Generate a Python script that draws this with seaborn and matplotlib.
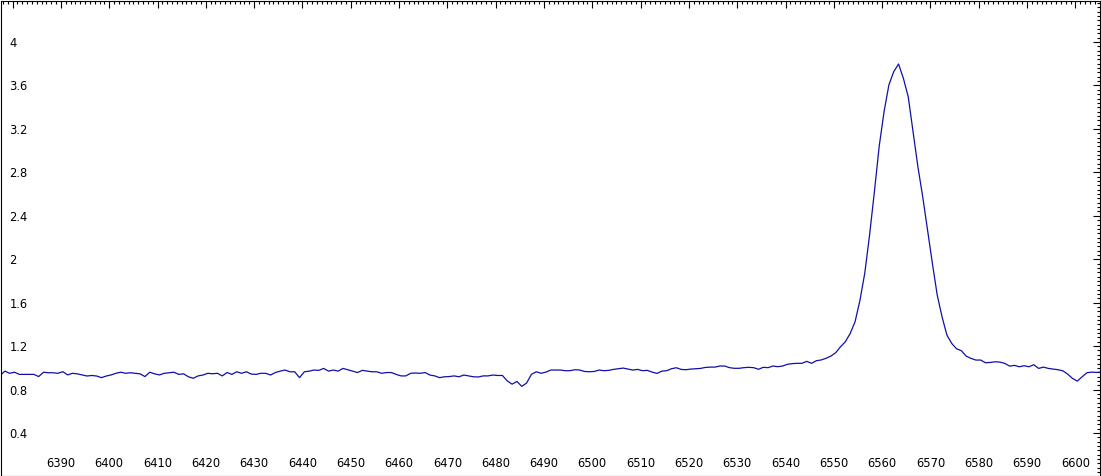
import numpy as np
import matplotlib
matplotlib.use("Agg")
import matplotlib.pyplot as plt
from matplotlib.ticker import MultipleLocator, FuncFormatter
import seaborn as sns

wl_start = 6377.4
wl_step = 1.0

flux_6377 = [0.93, 0.97, 0.95, 0.96, 0.94, 0.94, 0.94, 0.94, 0.92, 0.96,
             0.955, 0.955, 0.95, 0.965, 0.935, 0.95, 0.945, 0.935, 0.925, 0.93,
             0.925, 0.91, 0.925, 0.935, 0.95, 0.96, 0.95, 0.955, 0.95, 0.945,
             0.92, 0.96, 0.945, 0.935, 0.95, 0.955, 0.96, 0.94, 0.945]
flux_6416 = [0.918, 0.904, 0.926, 0.934, 0.95, 0.946, 0.95, 0.926, 0.957, 0.94,
             0.964, 0.95, 0.964, 0.943, 0.94, 0.95, 0.95, 0.934, 0.957, 0.97,
             0.98, 0.964, 0.964, 0.91, 0.964, 0.97, 0.98, 0.977, 0.995, 0.97,
             0.98, 0.97, 0.995, 0.983, 0.97, 0.957, 0.977]
flux_6453 = [0.97, 0.964, 0.964, 0.95, 0.957, 0.957, 0.94, 0.926, 0.926, 0.95,
             0.953, 0.95, 0.957, 0.934, 0.926, 0.91, 0.918, 0.92, 0.926, 0.918,
             0.934, 0.926, 0.918, 0.916, 0.926, 0.926, 0.934, 0.93, 0.93, 0.88,
             0.85, 0.875, 0.83, 0.86, 0.94, 0.964, 0.95]
flux_6490 = [0.961, 0.98, 0.98, 0.98, 0.974, 0.974, 0.983, 0.98, 0.967, 0.964,
             0.967, 0.98, 0.974, 0.977, 0.986, 0.992, 0.998, 0.989, 0.98, 0.986,
             0.974, 0.977, 0.961, 0.949, 0.97, 0.974, 0.992, 1.001, 0.986, 0.983,
             0.989, 0.992, 0.995, 1.004, 1.007, 1.007, 1.017, 1.017]
flux_6528 = [1.002, 0.996, 0.996, 1.002, 1.005, 1.002, 0.987, 1.005, 1.002, 1.017,
             1.011, 1.017, 1.033, 1.039, 1.042, 1.042, 1.06, 1.042, 1.066, 1.073,
             1.088, 1.109, 1.14, 1.195, 1.241, 1.318, 1.425, 1.62]
flux_halpha = [1.87, 2.223, 2.622, 3.043, 3.359, 3.605, 3.727, 3.798, 3.666, 3.497,
               3.175, 2.853, 2.576, 2.269, 1.963, 1.671, 1.471, 1.303]
flux_6574 = [1.225, 1.176, 1.158, 1.108, 1.087, 1.072, 1.072, 1.047, 1.05, 1.056,
             1.053, 1.041, 1.016, 1.023, 1.01, 1.02, 1.01, 1.029, 0.995, 1.007,
             0.995, 0.989, 0.983, 0.973, 0.943, 0.903, 0.878, 0.918, 0.955, 0.961,
             0.958, 0.961]

flux = np.array(flux_6377 + flux_6416 + flux_6453 + flux_6490
                + flux_6528 + flux_halpha + flux_6574)
wavelength = wl_start + wl_step * np.arange(len(flux))

sns.set_style("white")
plt.rcParams['font.family'] = ['DejaVu Sans']

fig = plt.figure(figsize=(11.01, 4.76), dpi=100)
ax = fig.add_axes([0.5 / 1101, 0.5 / 476, 1099.5 / 1101, 474.5 / 476])

sns.lineplot(x=wavelength, y=flux, ax=ax, color='#1010a8', linewidth=0.9)

ax.set_xlim(6377.5, 6605.1)
ax.set_ylim(0.009, 4.378)
ax.set_xlabel('')
ax.set_ylabel('')

ax.xaxis.set_major_locator(MultipleLocator(10))
ax.xaxis.set_minor_locator(MultipleLocator(1))
ax.yaxis.set_major_locator(MultipleLocator(0.4))
ax.yaxis.set_minor_locator(MultipleLocator(0.04))
ax.xaxis.set_major_formatter(FuncFormatter(lambda v, p: '' if v < 6385 else f'{v:.0f}'))
ax.yaxis.set_major_formatter(FuncFormatter(lambda v, p: '' if v < 0.2 else f'{v:g}'))

for sp in ax.spines.values():
    sp.set_color('black')
    sp.set_linewidth(0.8)

ax.tick_params(which='both', direction='in', top=True, right=True,
               color='black', width=0.8, labelcolor='black')
ax.tick_params(which='major', length=5)
ax.tick_params(which='minor', length=2.5)
ax.tick_params(axis='x', which='major', labelsize=8.3, pad=-4.2)
ax.tick_params(axis='y', which='major', labelsize=8.3, pad=-6.5)
plt.setp(ax.get_xticklabels(), va='bottom')
plt.setp(ax.get_yticklabels(), ha='left')

fig.savefig('out.png', dpi=100)
